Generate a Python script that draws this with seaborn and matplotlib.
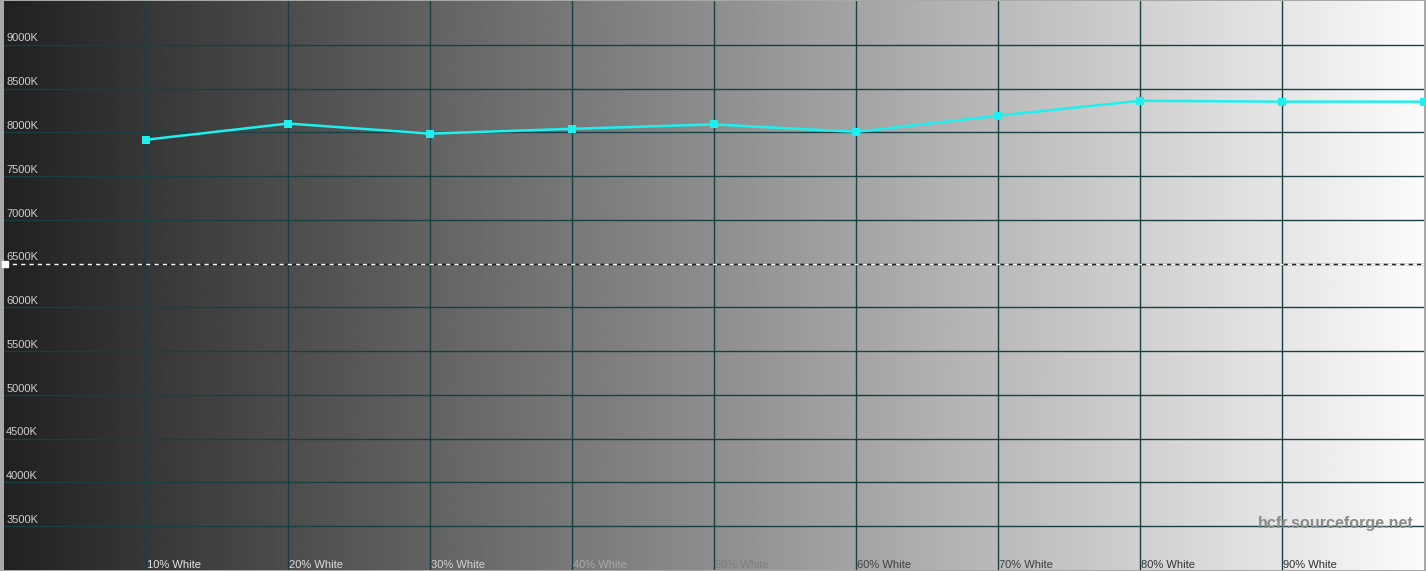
import numpy as np
import pandas as pd
import matplotlib
matplotlib.use("Agg")
import matplotlib.pyplot as plt
import seaborn as sns

# -- Data ------------------------------------------------------------------
levels = ["10% White", "20% White", "30% White", "40% White", "50% White",
          "60% White", "70% White", "80% White", "90% White", "100% White"]
positions = [1, 2, 3, 4, 5, 6, 7, 8, 9, 10]
cct_values = [7915, 8100, 7985, 8040, 8090, 8005, 8190, 8360, 8350, 8350]
y_ticks = [3500, 4000, 4500, 5000, 5500, 6000, 6500, 7000, 7500, 8000, 8500, 9000]
y_tick_labels = [f"{v}K" for v in y_ticks]
target_cct = 6500
label_colors = ["#e6e6e6", "#e0e0e0", "#d4d4d4", "#a8a8a8", "#7c7c7c",
                "#404040", "#3c3c3c", "#343434", "#303030"]

df = pd.DataFrame({"pos": positions, "cct": cct_values})

# -- Figure ----------------------------------------------------------------
sns.set_theme(style="white")
plt.rcParams["font.family"] = ["Liberation Sans", "DejaVu Sans"]

W, H = 1426, 571
fig = plt.figure(figsize=(W / 100, H / 100), dpi=100)
fig.patch.set_facecolor("#a8a8a8")
ax = fig.add_axes([4 / W, 1 / H, 1420 / W, 569 / H])
ax.set_xlim(0, 10)
ax.set_ylim(3000, 9500)

# gradient background
grad = np.linspace(0.13, 0.985, 512).reshape(1, -1)
ax.imshow(grad, cmap="gray", vmin=0, vmax=1, aspect="auto",
          extent=[0, 10, 3000, 9500], zorder=0)

# grid
grid_color = "#183f44"
for v in y_ticks:
    ax.axhline(v, color=grid_color, lw=1, zorder=1)
for p in positions[:-1]:
    ax.axvline(p, color=grid_color, lw=1, zorder=1)

# reference 6500K line
ax.axhline(target_cct, color="white", lw=1, ls=(0, (3, 3)), gapcolor="#202020", zorder=2)
ax.plot([0.01], [target_cct], marker="s", ms=4, color="white", clip_on=False, zorder=3)

# measured curve
sns.lineplot(data=df, x="pos", y="cct", ax=ax, color="#1ef0f0", lw=1.8,
             marker="s", markersize=6, markeredgewidth=0, clip_on=False, zorder=4)

# labels
for v, lab in zip(y_ticks, y_tick_labels):
    ax.text(0.015, v + 15, lab, fontsize=8, color="#d0d0d0", ha="left", va="bottom", zorder=5)
for p, lab, c in zip(positions[:-1], levels[:-1], label_colors):
    ax.text(p + 0.01, 3005, lab, fontsize=8, color=c, ha="left", va="bottom", zorder=5)

ax.text(9.93, 3445, "hcfr.sourceforge.net", fontsize=11.6, fontweight="bold",
        color="#8a8a8a", ha="right", va="bottom", zorder=5)

ax.set_xticks([])
ax.set_yticks([])
ax.set_xlabel("")
ax.set_ylabel("")
for s in ax.spines.values():
    s.set_visible(False)

fig.savefig("out.png", dpi=100)
plt.close(fig)
